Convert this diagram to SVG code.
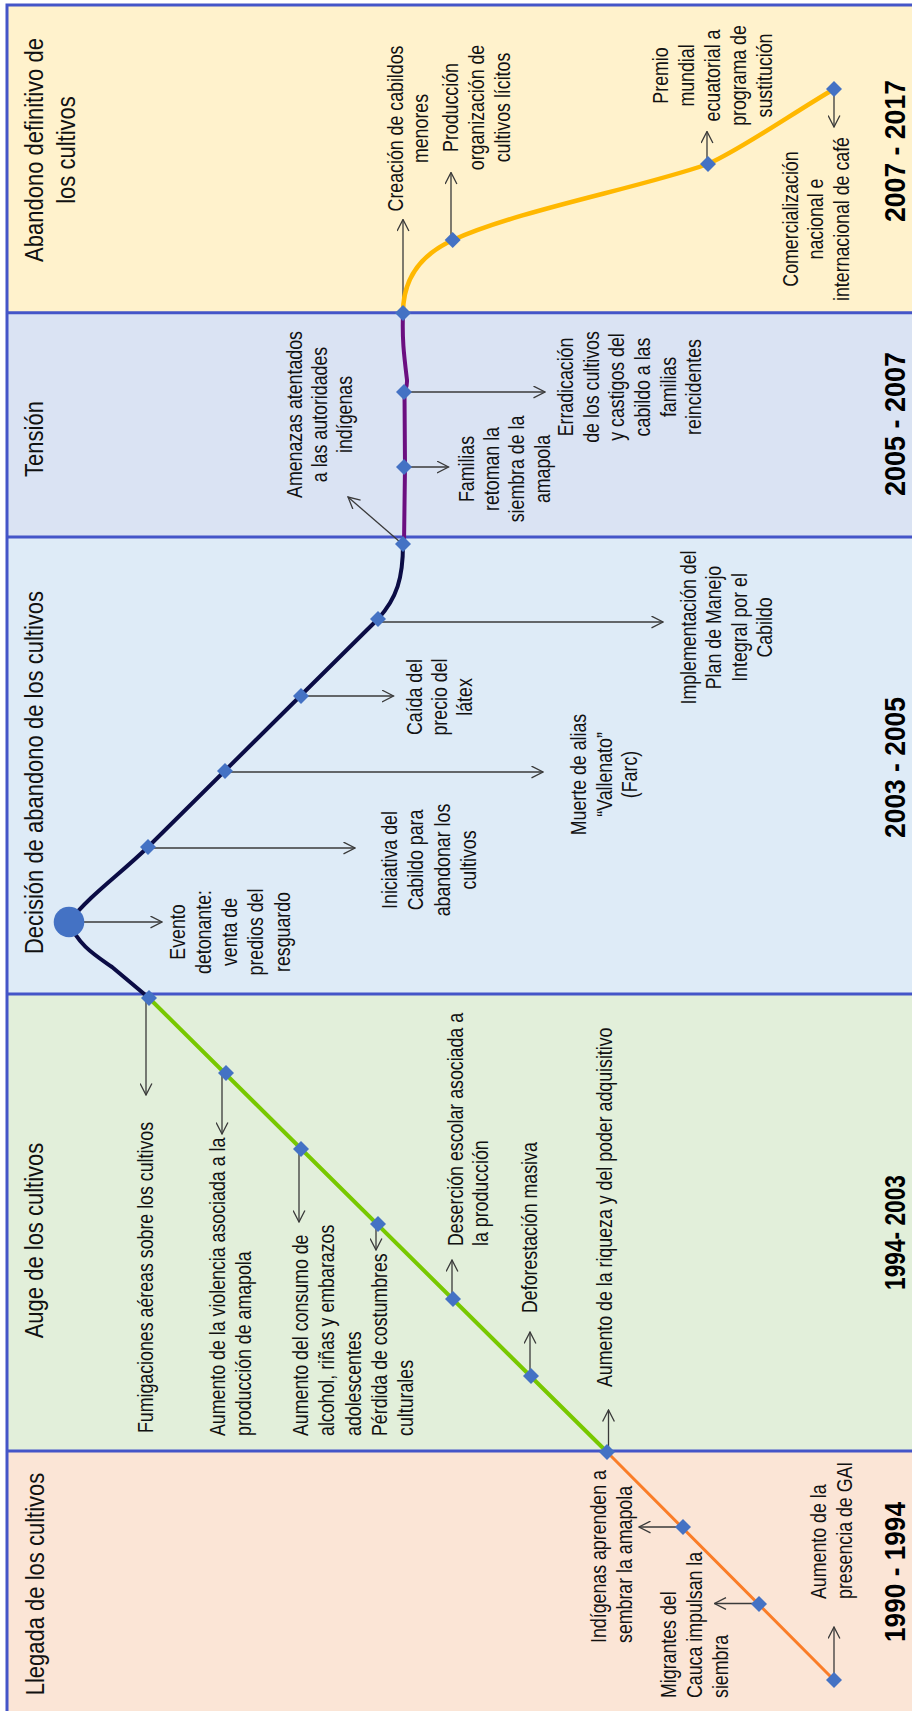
<svg xmlns="http://www.w3.org/2000/svg" xmlns:xlink="http://www.w3.org/1999/xlink" width="912" height="1711" viewBox="0 0 912 1711">
<style>
.lbl{font-family:"Liberation Sans",Arial,sans-serif;font-size:22.5px;fill:#111;}
.mid{text-anchor:middle;}
.st{text-anchor:start;}
.ttl{font-family:"Liberation Sans",Arial,sans-serif;font-size:26px;fill:#111;text-anchor:middle;}
.yr{font-family:"Liberation Sans",Arial,sans-serif;font-size:29.5px;font-weight:bold;fill:#000;text-anchor:middle;}
.conn{stroke:#3a3a3a;stroke-width:1.3;fill:none;marker-end:url(#ah);}
.border{stroke:#4455C8;stroke-width:3;fill:none;}
.tl{fill:none;stroke-linecap:round;stroke-linejoin:round;}
</style>
<defs>
<marker id="ah" markerUnits="userSpaceOnUse" viewBox="0 0 13 13" refX="12" refY="6.5" markerWidth="13" markerHeight="13" orient="auto">
<path d="M0.5,0.6 L12,6.5 L0.5,12.4" fill="none" stroke="#3a3a3a" stroke-width="1.3"/>
</marker>
<path id="dm" d="M0,-8 L8,0 L0,8 L-8,0Z" fill="#4472C4"/>
</defs>

<!-- bands -->
<g id="band-abandono">
<rect x="7" y="5" width="910" height="308" fill="#FFF2CC"/>
<text class="ttl" transform="translate(43,150) rotate(-90) scale(0.846,1)"><tspan x="0" y="0">Abandono definitivo de</tspan><tspan x="0" dy="32">los cultivos</tspan></text>
<text class="yr" transform="translate(904.5,151) rotate(-90)" textLength="142" lengthAdjust="spacingAndGlyphs">2007 - 2017</text>
</g>
<g id="band-tension">
<rect x="7" y="313" width="910" height="224" fill="#DAE3F3"/>
<text class="ttl" transform="translate(43,439) rotate(-90) scale(0.846,1)">Tensión</text>
<text class="yr" transform="translate(904.5,424) rotate(-90)" textLength="144" lengthAdjust="spacingAndGlyphs">2005 - 2007</text>
</g>
<g id="band-decision">
<rect x="7" y="537" width="910" height="457" fill="#DEEBF7"/>
<text class="ttl" transform="translate(43,772.5) rotate(-90) scale(0.846,1)">Decisión de abandono de los cultivos</text>
<text class="yr" transform="translate(905,767.5) rotate(-90)" textLength="141" lengthAdjust="spacingAndGlyphs">2003 - 2005</text>
</g>
<g id="band-auge">
<rect x="7" y="994" width="910" height="457" fill="#E2EFDA"/>
<text class="ttl" transform="translate(43,1240.5) rotate(-90) scale(0.846,1)">Auge de los cultivos</text>
<text class="yr" transform="translate(905,1232.5) rotate(-90)" textLength="115" lengthAdjust="spacingAndGlyphs">1994- 2003</text>
</g>
<g id="band-llegada">
<rect x="7" y="1451" width="910" height="265" fill="#FBE5D6"/>
<text class="ttl" transform="translate(44,1584) rotate(-90) scale(0.846,1)">Llegada de los cultivos</text>
<text class="yr" transform="translate(905,1572) rotate(-90)" textLength="140" lengthAdjust="spacingAndGlyphs">1990 - 1994</text>
</g>
<g id="borders" class="border">
<path d="M7,1712 V5 H913"/>
<path d="M7,312.7 H913 M7,537 H913 M7,994 H913 M7,1451 H913"/>
</g>

<!-- connectors -->
<g id="connectors">
<path class="conn" d="M403,313 V219.5"/>
<path class="conn" d="M451,240 V172.5"/>
<path class="conn" d="M707,164 V131.5"/>
<path class="conn" d="M834,89 V127"/>
<path class="conn" d="M404,392 H545"/>
<path class="conn" d="M404,467 H448.5"/>
<path class="conn" d="M400,542 L348,497"/>
<path class="conn" d="M378,622 H663"/>
<path class="conn" d="M301,696 H393.5"/>
<path class="conn" d="M225,772 H543"/>
<path class="conn" d="M148,848 H355"/>
<path class="conn" d="M69,922 H162"/>
<path class="conn" d="M146,998 V1095"/>
<path class="conn" d="M222,1073 V1134"/>
<path class="conn" d="M299,1149 V1222"/>
<path class="conn" d="M376,1224 V1250"/>
<path class="conn" d="M452,1299 V1260"/>
<path class="conn" d="M530,1376 V1332"/>
<path class="conn" d="M608.5,1452 V1410"/>
<path class="conn" d="M683,1527 H639"/>
<path class="conn" d="M759,1603.5 H714.5"/>
<path class="conn" d="M834,1680 V1627"/>
</g>

<!-- timeline -->
<g id="timeline">
<path class="tl" stroke="#FA7D28" stroke-width="3" d="M607,1452 L834,1680"/>
<path class="tl" stroke="#78C800" stroke-width="4" d="M149,998 L607,1452"/>
<path class="tl" stroke="#0B0C45" stroke-width="4" d="M403,544 C403,578 397,598 378,619 L148,847 C118,876 90,895 69,922 C78,945 95,955 112,967 L149,998"/>
<path class="tl" stroke="#6B0F80" stroke-width="4" d="M403,313 C402,340 404,355 407,380 C407.5,386 405,390 404.5,393 L405,467 L404,544"/>
<path class="tl" stroke="#FFB800" stroke-width="4.5" d="M403,313 C403,280 420,255 453,240 C519,210 640,188 708,164 C740,150 790,115 834,89"/>
</g>

<!-- nodes -->
<g id="n-creacion"><use xlink:href="#dm" x="403" y="313"/>
<text class="lbl mid" transform="translate(403,128.5) rotate(-90) scale(0.79,1)"><tspan x="0" y="0">Creación de cabildos</tspan><tspan x="0" dy="25.5">menores</tspan></text></g>
<g id="n-produccion"><use xlink:href="#dm" x="452.7" y="240"/>
<text class="lbl mid" transform="translate(458.3,107.5) rotate(-90) scale(0.79,1)"><tspan x="0" y="0">Producción</tspan><tspan x="0" dy="26">organización de</tspan><tspan x="0" dy="26">cultivos lícitos</tspan></text></g>
<g id="n-premio"><use xlink:href="#dm" x="708" y="164"/>
<text class="lbl mid" transform="translate(668,75.5) rotate(-90) scale(0.79,1)"><tspan x="0" y="0">Premio</tspan><tspan x="0" dy="26">mundial</tspan><tspan x="0" dy="26">ecuatorial a</tspan><tspan x="0" dy="26">programa de</tspan><tspan x="0" dy="26">sustitución</tspan></text></g>
<g id="n-comercializacion"><use xlink:href="#dm" x="834" y="89"/>
<text class="lbl mid" transform="translate(797.5,219) rotate(-90) scale(0.79,1)"><tspan x="0" y="0">Comercialización</tspan><tspan x="0" dy="25.7">nacional e</tspan><tspan x="0" dy="25.7">internacional de café</tspan></text></g>

<g id="n-erradicacion"><use xlink:href="#dm" x="404" y="392"/>
<text class="lbl mid" transform="translate(573.3,387) rotate(-90) scale(0.79,1)"><tspan x="0" y="0">Erradicación</tspan><tspan x="0" dy="25.6">de los cultivos</tspan><tspan x="0" dy="25.6">y castigos del</tspan><tspan x="0" dy="25.6">cabildo a las</tspan><tspan x="0" dy="25.6">familias</tspan><tspan x="0" dy="25.6">reincidentes</tspan></text></g>
<g id="n-familias"><use xlink:href="#dm" x="404" y="467"/>
<text class="lbl mid" transform="translate(473.5,469) rotate(-90) scale(0.79,1)"><tspan x="0" y="0">Familias</tspan><tspan x="0" dy="25.5">retoman la</tspan><tspan x="0" dy="25.5">siembra de la</tspan><tspan x="0" dy="25.5">amapola</tspan></text></g>
<g id="n-amenazas"><use xlink:href="#dm" x="403" y="544"/>
<text class="lbl mid" transform="translate(301.5,414.5) rotate(-90) scale(0.79,1)"><tspan x="0" y="0">Amenazas atentados</tspan><tspan x="0" dy="25.5">a las autoridades</tspan><tspan x="0" dy="25.5">indígenas</tspan></text></g>

<g id="n-implementacion"><use xlink:href="#dm" x="378" y="619"/>
<text class="lbl mid" transform="translate(696,627.5) rotate(-90) scale(0.79,1)"><tspan x="0" y="0">Implementación del</tspan><tspan x="0" dy="25.5">Plan de Manejo</tspan><tspan x="0" dy="25.5">Integral por el</tspan><tspan x="0" dy="25.5">Cabildo</tspan></text></g>
<g id="n-caida"><use xlink:href="#dm" x="301" y="696"/>
<text class="lbl mid" transform="translate(421.5,697) rotate(-90) scale(0.79,1)"><tspan x="0" y="0">Caída del</tspan><tspan x="0" dy="25.5">precio del</tspan><tspan x="0" dy="25.5">látex</tspan></text></g>
<g id="n-muerte"><use xlink:href="#dm" x="225" y="771"/>
<text class="lbl mid" transform="translate(586,774.5) rotate(-90) scale(0.79,1)"><tspan x="0" y="0">Muerte de alias</tspan><tspan x="0" dy="25.7">“Vallenato”</tspan><tspan x="0" dy="25.7">(Farc)</tspan></text></g>
<g id="n-iniciativa"><use xlink:href="#dm" x="148" y="847"/>
<text class="lbl mid" transform="translate(397,860) rotate(-90) scale(0.79,1)"><tspan x="0" y="0">Iniciativa del</tspan><tspan x="0" dy="26.5">Cabildo para</tspan><tspan x="0" dy="26.5">abandonar los</tspan><tspan x="0" dy="26.5">cultivos</tspan></text></g>
<g id="n-evento"><circle cx="69" cy="922" r="15.3" fill="#4472C4"/>
<text class="lbl mid" transform="translate(184.5,932) rotate(-90) scale(0.79,1)"><tspan x="0" y="0">Evento</tspan><tspan x="0" dy="26.3">detonante:</tspan><tspan x="0" dy="26.3">venta de</tspan><tspan x="0" dy="26.3">predios del</tspan><tspan x="0" dy="26.3">resguardo</tspan></text></g>

<g id="n-fumigaciones"><use xlink:href="#dm" x="149" y="998"/>
<text class="lbl st" transform="translate(153,1433) rotate(-90) scale(0.79,1)">Fumigaciones aéreas sobre los cultivos</text></g>
<g id="n-violencia"><use xlink:href="#dm" x="226" y="1073"/>
<text class="lbl st" transform="translate(225,1436) rotate(-90) scale(0.79,1)"><tspan x="0" y="0">Aumento de la violencia asociada a la</tspan><tspan x="0" dy="26.5">producción de amapola</tspan></text></g>
<g id="n-consumo"><use xlink:href="#dm" x="301" y="1149"/>
<text class="lbl st" transform="translate(308,1436) rotate(-90) scale(0.79,1)"><tspan x="0" y="0">Aumento del consumo de</tspan><tspan x="0" dy="26.3">alcohol, riñas y embarazos</tspan><tspan x="0" dy="26.3">adolescentes</tspan></text></g>
<g id="n-perdida"><use xlink:href="#dm" x="378" y="1224"/>
<text class="lbl st" transform="translate(387,1436) rotate(-90) scale(0.79,1)"><tspan x="0" y="0">Pérdida de costumbres</tspan><tspan x="0" dy="26.5">culturales</tspan></text></g>
<g id="n-desercion"><use xlink:href="#dm" x="453" y="1299"/>
<text class="lbl st" transform="translate(462.5,1246) rotate(-90) scale(0.79,1)"><tspan x="0" y="0">Deserción escolar asociada a</tspan><tspan x="0" dy="26">la producción</tspan></text></g>
<g id="n-deforestacion"><use xlink:href="#dm" x="531" y="1376"/>
<text class="lbl st" transform="translate(537,1313) rotate(-90) scale(0.79,1)">Deforestación masiva</text></g>
<g id="n-riqueza"><use xlink:href="#dm" x="607" y="1452"/>
<text class="lbl st" transform="translate(612,1387) rotate(-90) scale(0.79,1)">Aumento de la riqueza y del poder adquisitivo</text></g>

<g id="n-indigenas"><use xlink:href="#dm" x="683" y="1527"/>
<text class="lbl st" transform="translate(605.5,1643) rotate(-90) scale(0.79,1)"><tspan x="0" y="0">Indígenas aprenden a</tspan><tspan x="0" dy="26.5">sembrar la amapola</tspan></text></g>
<g id="n-migrantes"><use xlink:href="#dm" x="759" y="1604"/>
<text class="lbl st" transform="translate(675.5,1698) rotate(-90) scale(0.79,1)"><tspan x="0" y="0">Migrantes del</tspan><tspan x="0" dy="26.5">Cauca impulsan la</tspan><tspan x="0" dy="26.5">siembra</tspan></text></g>
<g id="n-gai"><use xlink:href="#dm" x="834" y="1680"/>
<text class="lbl st" transform="translate(825.5,1599) rotate(-90) scale(0.79,1)"><tspan x="0" y="0">Aumento de la</tspan><tspan x="0" dy="27">presencia de GAI</tspan></text></g>
</svg>
